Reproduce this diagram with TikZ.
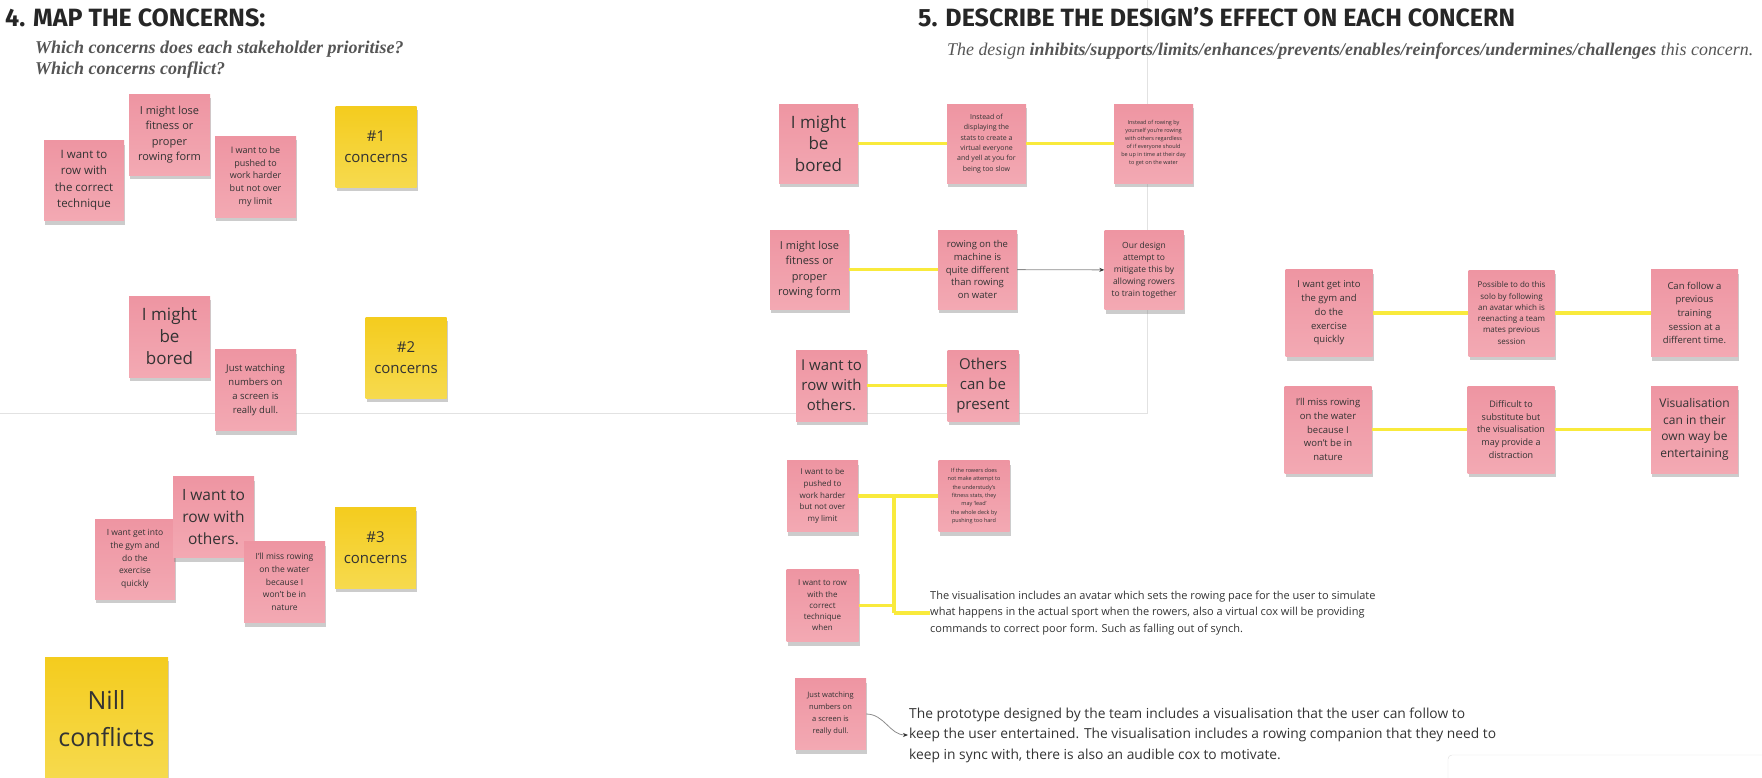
\documentclass[tikz,border=0pt]{standalone}
\usepackage{fontspec}
\setmainfont{Open Sans}
\newfontfamily\headfont{Fira Sans}
\newfontfamily\askfont{Liberation Serif}
\usepackage{tikz}
\usetikzlibrary{arrows.meta, shadows, calc}
\definecolor{notepink}{HTML}{EE95A2}
\definecolor{notepinklight}{HTML}{F3A9B3}
\definecolor{noteyellow}{HTML}{F4CC1E}
\definecolor{noteyellowlight}{HTML}{F6DA4E}
\definecolor{linkyellow}{HTML}{F9EA3C}
\definecolor{inkgrey}{HTML}{333333}
\definecolor{askgrey}{HTML}{555555}
\definecolor{framegrey}{HTML}{E2E2E2}
\newcommand{\fs}[2]{\fontsize{#1}{#2}\selectfont}
\tikzset{
  pinknote/.style={rectangle, align=center, inner sep=1pt, minimum size=#1,
    top color=notepink, bottom color=notepinklight, text=inkgrey,
    drop shadow={shadow xshift=1pt, shadow yshift=-4pt, opacity=0.4}},
  yellownote/.style={rectangle, align=center, inner sep=1pt, minimum size=#1,
    top color=noteyellow, bottom color=noteyellowlight, text=inkgrey,
    drop shadow={shadow xshift=1pt, shadow yshift=-4pt, opacity=0.4}},
}
\tikzstyle{link} = [line width=3.5pt, linkyellow]
\tikzstyle{pointer} = [line width=0.8pt, black!45, -{Stealth[length=5pt,width=4pt,black!80]}]
\tikzstyle{frame} = [line width=1pt, framegrey]

\begin{document}
\begin{tikzpicture}[x=1pt, y=-1pt]
\useasboundingbox (0,0) rectangle (1762,777);
\draw[frame] (1147,0) -- (1147,413) -- (0,413);
% headings
\node[anchor=base west, inner sep=0, font={\headfont\bfseries\fs{25}{28}}, text=black!85] (head4) at (5,26) {4. MAP THE CONCERNS:};
\node[anchor=north west, inner sep=0, align=left, font={\askfont\bfseries\itshape\fs{18}{21}}, text=askgrey] (ask4) at (35,41) {Which concerns does each stakeholder prioritise?\\Which concerns conflict?};
\node[anchor=base west, inner sep=0, font={\headfont\bfseries\fs{25}{28}}, text=black!85] (head5) at (918,26) {5. DESCRIBE THE DESIGN’S EFFECT ON EACH CONCERN};
\node[anchor=base west, inner sep=0, font={\askfont\itshape\fs{17.9}{20}}, text=askgrey] (ask5) at (947,55) {The design \textbf{inhibits/supports/limits/enhances/prevents/enables/reinforces/undermines/challenges} this concern.};
% map the concerns
\node[pinknote=80pt, font={\fs{11.5}{16.5}}] (lc1) at (84,180.5) {I want to\\row with\\the correct\\technique};
\node[pinknote=81pt, font={\fs{11}{15.3}}] (lc2) at (169.5,134.5) {I might lose\\fitness or\\proper\\rowing form};
\node[pinknote=81pt, font={\fs{9}{12.7}}] (lc3) at (255.5,176.5) {I want to be\\pushed to\\work harder\\but not over\\my limit};
\node[yellownote=81pt, font={\fs{15}{21}}] (lh1) at (376,146.5) {\#1\\concerns};
\node[pinknote=81pt, font={\fs{17}{22}}] (lc4) at (169.5,336.5) {I might\\be\\bored};
\node[pinknote=81pt, font={\fs{9.5}{14}}] (lc5) at (255.5,390) {Just watching\\numbers on\\a screen is\\really dull.};
\node[yellownote=81pt, font={\fs{15}{21}}] (lh2) at (406,357.5) {\#2\\concerns};
\node[pinknote=80pt, font={\fs{8.5}{12.7}}] (lc7) at (135,559) {I want get into\\the gym and\\do the\\exercise\\quickly};
\node[pinknote=81pt, font={\fs{15.5}{22}}] (lc6) at (213.5,517) {I want to\\row with\\others.};
\node[pinknote=81pt, font={\fs{8.5}{12.7}}] (lc8) at (284.5,582) {I'll miss rowing\\on the water\\because I\\won't be in\\nature};
\node[yellownote=81pt, font={\fs{15}{21}}] (lh3) at (375.5,547.5) {\#3\\concerns};
\node[yellownote=123pt, font={\fs{25}{37}}] (lnil) at (106.5,718.5) {Nill\\conflicts};
% design effect
\node[pinknote=79pt, font={\fs{17}{21.7}}] (rb1) at (818.5,143.5) {I might\\be\\bored};
\node[pinknote=79pt, font={\fs{7}{10.3}}] (re1) at (986.5,143.5) {Instead of\\displaying the\\stats to create a\\virtual everyone\\and yell at you for\\being too slow};
\node[pinknote=79pt, font={\fs{5.5}{8}}] (rf1) at (1153.5,143.5) {Instead of rowing by\\yourself you're rowing\\with others regardless\\of if everyone should\\be up in time at their day\\to get on the water};
\node[pinknote=79pt, font={\fs{11}{15.3}}] (rb2) at (809.5,269.5) {I might lose\\fitness or\\proper\\rowing form};
\node[pinknote=79pt, font={\fs{9.5}{12.7}}] (re2) at (977.5,269.5) {rowing on the\\machine is\\quite different\\than rowing\\on water};
\node[pinknote=79pt, font={\fs{8.5}{12}}] (rf2) at (1144,270) {Our design\\attempt to\\mitigate this by\\allowing rowers\\to train together};
\node[pinknote=71pt, font={\fs{15}{20}}] (rb3) at (831.5,385.5) {I want to\\row with\\others.};
\node[pinknote=71pt, font={\fs{15}{20}}] (re3) at (983,385.5) {Others\\can be\\present};
\node[pinknote=71pt, font={\fs{8}{11.7}}] (rb4) at (822.5,496) {I want to be\\pushed to\\work harder\\but not over\\my limit};
\node[pinknote=71pt, font={\fs{5.5}{8.3}}] (re4) at (974,496) {If the rowers does\\not make attempt to\\the understudy's\\fitness stats, they\\may `lead'\\the whole deck by\\pushing too hard};
\node[pinknote=72pt, font={\fs{8}{11.3}}] (rb5) at (822.5,605.5) {I want to row\\with the\\correct\\technique\\when};
\node[anchor=west, inner sep=0, align=left, text=inkgrey, font={\fs{11}{16.7}}] (rt5) at (930,613) {The visualisation includes an avatar which sets the rowing pace for the user to simulate\\what happens in the actual sport when the rowers, also a virtual cox will be providing\\commands to correct poor form. Such as falling out of synch.};
\node[pinknote=71pt, font={\fs{7.5}{12}}] (rb6) at (830.5,714) {Just watching\\numbers on\\a screen is\\really dull.};
\node[anchor=west, inner xsep=1pt, inner ysep=0, align=left, text=inkgrey, font={\fs{13.8}{20.5}}] (rt6) at (908,735) {The prototype designed by the team includes a visualisation that the user can follow to\\keep the user entertained. The visualisation includes a rowing companion that they need to\\keep in sync with, there is also an audible cox to motivate.};
\node[pinknote=87pt, font={\fs{9.5}{13.7}}] (rg1) at (1329,313) {I want get into\\the gym and\\do the\\exercise\\quickly};
\node[pinknote=86pt, font={\fs{8}{11.3}}] (rg2) at (1511.5,313) {Possible to do this\\solo by following\\an avatar which is\\reenacting a team\\mates previous\\session};
\node[pinknote=87pt, font={\fs{9.5}{13.7}}] (rg3) at (1694.5,313) {Can follow a\\previous\\training\\session at a\\different time.};
\node[pinknote=87pt, font={\fs{9.5}{13.7}}] (rg4) at (1328,429.5) {I'll miss rowing\\on the water\\because I\\won't be in\\nature};
\node[pinknote=87pt, font={\fs{9}{12.7}}] (rg5) at (1511,429.5) {Difficult to\\substitute but\\the visualisation\\may provide a\\distraction};
\node[pinknote=87pt, font={\fs{12}{16.7}}] (rg6) at (1694.5,429.5) {Visualisation\\can in their\\own way be\\entertaining};
\coordinate (jtop) at (894,496);
\coordinate (jbot) at (894,613);
\draw[link] (rb1)--(re1);
\draw[link] (re1)--(rf1);
\draw[link] (rb2)--(re2);
\draw[pointer] (re2)--(rf2);
\draw[link] (rb3)--(re3);
\draw[link] (rb4)--(re4);
\draw[link] (jtop)--(jbot);
\draw[link] (rb5.east)--(rb5.east -| jtop);
\draw[link] (jbot)--(rt5.west);
\draw[pointer] (rb6.east) to[out=0,in=180] (rt6.west);
\draw[link] (rg1)--(rg2);
\draw[link] (rg2)--(rg3);
\draw[link] (rg4)--(rg5);
\draw[link] (rg5)--(rg6);
\draw[black!12, fill=white, rounded corners=4pt] (1448,790) -- (1448,755) -- (1775,755);
\end{tikzpicture}
\end{document}
